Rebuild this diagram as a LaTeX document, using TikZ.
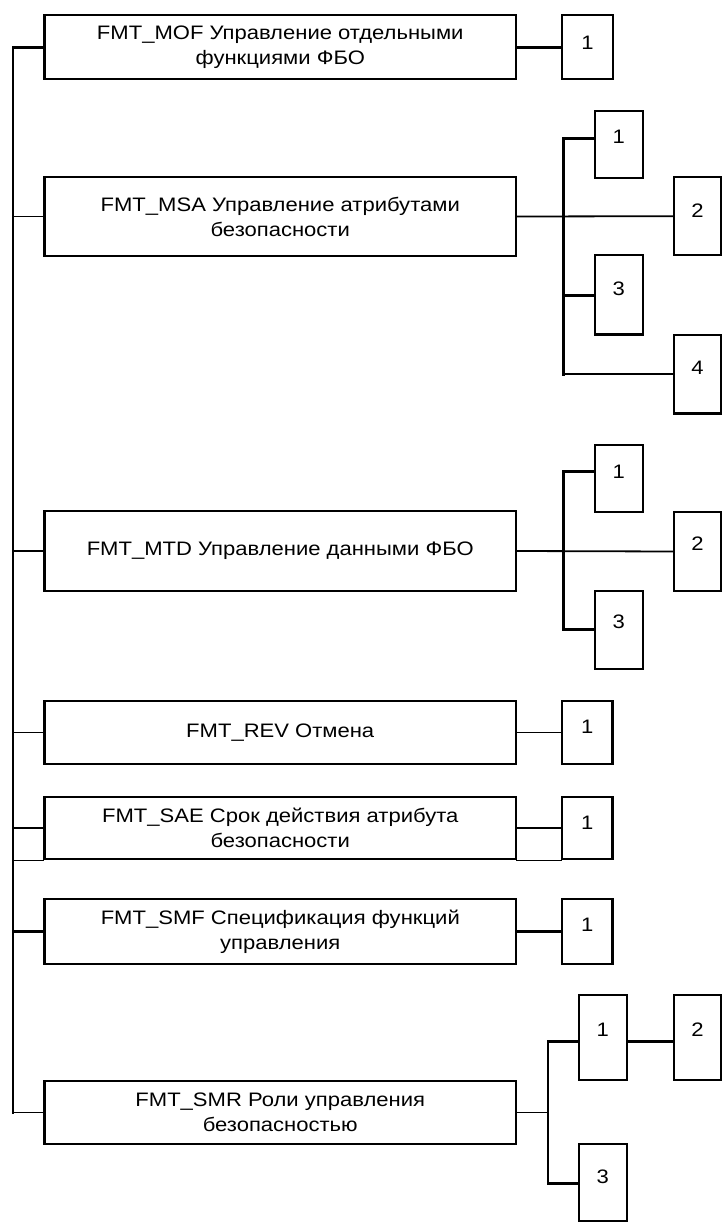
\documentclass[tikz,border=0pt]{standalone}
\usepackage{fontspec}
\setmainfont{Liberation Sans}[FakeStretch=1.13]
\newcommand{\mainfnt}{\fontsize{19.5}{25}\selectfont}
\begin{document}
\begin{tikzpicture}[x=1pt,y=-1pt,
  box/.style={draw, line width=2.3pt, rectangle, inner sep=0pt},
  main/.style={box, minimum width=471.5pt, align=center, font=\mainfnt},
  small/.style={box, minimum width=47.7pt},
  wide/.style={box, minimum width=50.5pt},
  num/.style={font=\mainfnt, inner sep=0pt},
  thk/.style={line width=3pt, line cap=rect},
  thn/.style={line width=1.8pt, line cap=rect},
  trk/.style={line width=2pt, line cap=rect}]
\useasboundingbox (0,0) rectangle (722,1222);

% main boxes
\node[main, minimum height=64.3pt] (mof) at (280.25,47.2) {FMT\_MOF Управление отдельными\\функциями ФБО};
\node[main, minimum height=79pt] (msa) at (280.25,216.5) {FMT\_MSA Управление атрибутами\\безопасности};
\node[main, minimum height=80pt] (mtd) at (280.25,551) {FMT\_MTD Управление данными ФБО};
\node[main, minimum height=63pt] (rev) at (280.25,732.5) {FMT\_REV Отмена};
\node[main, minimum height=62.5pt] (sae) at (280.25,828) {FMT\_SAE Срок действия атрибута\\безопасности};
\node[main, minimum height=65pt] (smf) at (280.25,931.5) {FMT\_SMF Спецификация функций\\управления};
\node[main, minimum height=63pt] (smr) at (280.25,1112.5) {FMT\_SMR Роли управления\\безопасностью};

% small boxes
\node[wide, minimum height=64.3pt] (mof1) at (587.5,47.2) {};
\node[small, minimum height=67pt] (msa1) at (618.8,144.2) {};
\node[small, minimum height=77.7pt, minimum width=46.4pt] (msa2) at (697.5,216.2) {};
\node[small, minimum height=79.3pt] (msa3) at (618.8,294.7) {};
\node[small, minimum height=78.3pt, minimum width=46.4pt] (msa4) at (697.5,374.2) {};
\node[small, minimum height=67pt] (mtd1) at (618.8,478.5) {};
\node[small, minimum height=79pt, minimum width=46.4pt] (mtd2) at (697.5,551.5) {};
\node[small, minimum height=78pt] (mtd3) at (618.8,630) {};
\node[wide, minimum height=63pt] (rev1) at (587.3,732.5) {};
\node[wide, minimum height=62.5pt] (sae1) at (587.3,828) {};
\node[wide, minimum height=65pt] (smf1) at (587.3,931.5) {};
\node[small, minimum height=85.3pt] (smr1) at (602.8,1037.3) {};
\node[small, minimum height=85.3pt, minimum width=46.4pt] (smr2) at (697.5,1037.3) {};
\node[small, minimum height=76.7pt] (smr3) at (602.8,1182.6) {};

% numbers
\node[num] (mof1n) at (587.5,43) {1};
\node[num] (msa1n) at (618.8,137) {1};
\node[num] (msa2n) at (697.5,211) {2};
\node[num] (msa3n) at (618.8,288.5) {3};
\node[num] (msa4n) at (697.5,368) {4};
\node[num] (mtd1n) at (618.8,471.7) {1};
\node[num] (mtd2n) at (697.5,543.5) {2};
\node[num] (mtd3n) at (618.8,622) {3};
\node[num] (rev1n) at (587.3,727) {1};
\node[num] (sae1n) at (587.3,823) {1};
\node[num] (smf1n) at (587.3,925) {1};
\node[num] (smr1n) at (602.8,1030) {1};
\node[num] (smr2n) at (697.5,1030) {2};
\node[num] (smr3n) at (602.8,1177) {3};

% trunk
\coordinate (ttop) at (13.3,47.2);
\coordinate (tbot) at (13.3,1112.5);
\draw[trk] (ttop) -- (tbot);
\draw[thk] (ttop) -- (mof.west);
\draw[thn] (msa.west -| ttop) -- (msa.west);
\draw[thn] (mtd.west -| ttop) -- (mtd.west);
\draw[thn] (rev.west -| ttop) -- (rev.west);
\draw[thn] (sae.west -| ttop) -- (sae.west);
\draw[thn] (sae.south west -| ttop) -- (sae.south west);
\draw[thk] (smf.west -| ttop) -- (smf.west);
\draw[thn] (tbot) -- (smr.west);

% MOF
\draw[thk] (mof.east) -- (mof1.west);

% MSA
\coordinate (msaJ1) at (563.3,138.3);
\coordinate (msaJ3) at (563.3,296);
\coordinate (msaJ4) at (563.3,374.2);
\draw[thk] (msaJ1) -- (msaJ4);
\draw[thn] (msa.east) -- (msa2.west);
\draw[thk] (msaJ1) -- (msaJ1 -| msa1.west);
\draw[thk] (msaJ3) -- (msaJ3 -| msa3.west);
\draw[thn] (msaJ4) -- (msa4.west);

% MTD
\coordinate (mtdJ1) at (563.3,471);
\coordinate (mtdJ3) at (563.3,629);
\draw[thk] (mtdJ1) -- (mtdJ3);
\draw[thn] (mtd.east) -- (mtd2.west);
\draw[thk] (mtdJ1) -- (mtdJ1 -| mtd1.west);
\draw[thk] (mtdJ3) -- (mtdJ3 -| mtd3.west);

% REV, SAE, SMF
\draw[thn] (rev.east) -- (rev1.west);
\draw[thn] (sae.east) -- (sae1.west);
\draw[thn] (sae.south east) -- (sae1.south west);
\draw[thk] (smf.east) -- (smf1.west);

% SMR
\coordinate (smrJ0) at (548.3,1112.5);
\coordinate (smrJ1) at (548.3,1041);
\coordinate (smrJ3) at (548.3,1183);
\draw[thn] (smrJ1) -- (smrJ3);
\draw[thn] (smr.east) -- (smrJ0);
\draw[thk] (smrJ1) -- (smrJ1 -| smr1.west);
\draw[thk] (smrJ3) -- (smrJ3 -| smr3.west);
\draw[thk] (smr1.east |- smrJ1) -- (smr2.west |- smrJ1);
\end{tikzpicture}
\end{document}
